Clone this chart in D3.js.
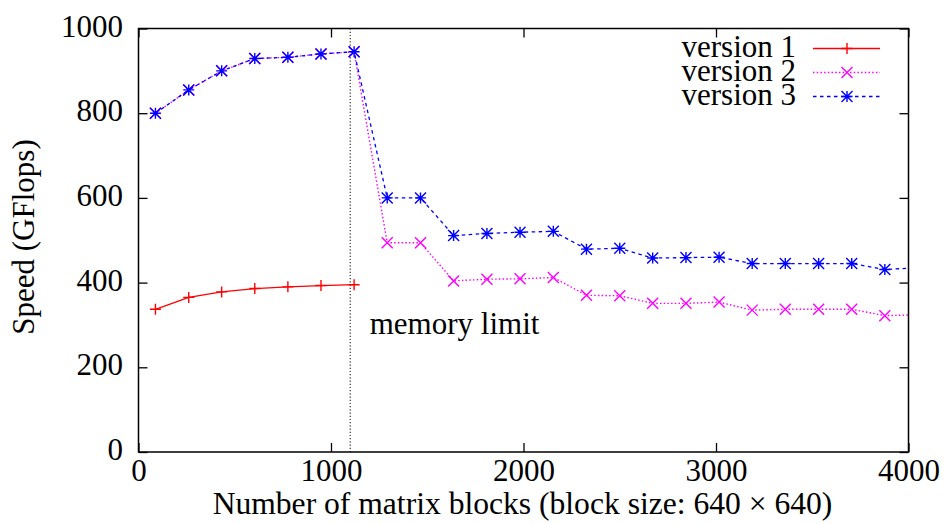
<!DOCTYPE html>
<html>
<head>
<meta charset="utf-8">
<script src="https://cdn.jsdelivr.net/npm/d3@7"></script>
<style>
  html, body { margin: 0; padding: 0; background: #fff; }
  svg { display: block; }
  svg text { font-family: 'Liberation Serif', 'DejaVu Serif', serif; fill: #000; }
</style>
</head>
<body>
<svg id="chart" width="946" height="524"></svg>
<script>
// Number of matrix blocks at each measurement
const blocks = [88, 261, 432, 604, 776, 948, 1120, 1292, 1465, 1637, 1810, 1982,
                2155, 2327, 2500, 2671, 2844, 3016, 3188, 3360, 3533, 3705, 3877, 4050];
// Speed in GFlops for each version
const version1 = [337, 365, 378, 386, 390, 393, 395];
const version2 = [800, 855, 900, 929, 932, 940, 945, 494, 494, 404, 408, 409,
                  412, 370, 369, 351, 351, 354, 335, 337, 337, 337, 322, 324];
const version3 = [800, 855, 900, 929, 932, 940, 945, 600, 600, 511, 516, 519,
                  521, 479, 481, 458, 459, 460, 445, 445, 445, 445, 431, 435];
const seriesNames = ["version 1", "version 2", "version 3"];
const xTicks = [0, 1000, 2000, 3000, 4000];
const yTicks = [0, 200, 400, 600, 800, 1000];
const memoryLimit = 1100;

const svg = d3.select("#chart");
const plotLeft = 138.5, plotRight = 908.5, plotTop = 28.5, plotBottom = 452;
const x = d3.scaleLinear().domain([0, 4000]).range([plotLeft, plotRight]);
const y = d3.scaleLinear().domain([0, 1000]).range([plotBottom, plotTop]);
const fontSize = 31;
const serif = "'Liberation Serif', 'DejaVu Serif', serif";

svg.append("clipPath").attr("id", "plotClip")
  .append("rect").attr("x", plotLeft).attr("y", plotTop)
  .attr("width", plotRight - plotLeft).attr("height", plotBottom - plotTop);

// Inward ticks on all four sides (mirrored like gnuplot)
const tickLen = 9;
const xAxisB = d3.axisBottom(x).tickValues(xTicks).tickSizeInner(-tickLen).tickSizeOuter(0).tickFormat(d3.format("d"));
const xAxisT = d3.axisTop(x).tickValues(xTicks).tickSizeInner(-tickLen).tickSizeOuter(0).tickFormat("");
const yAxisL = d3.axisLeft(y).tickValues(yTicks).tickSizeInner(-tickLen).tickSizeOuter(0).tickPadding(15.5).tickFormat(d3.format("d"));
const yAxisR = d3.axisRight(y).tickValues(yTicks).tickSizeInner(-tickLen).tickSizeOuter(0).tickFormat("");

function styleAxis(g) {
  g.attr("font-family", serif).attr("font-size", fontSize);
  g.select(".domain").remove();
  g.selectAll(".tick line").attr("stroke", "#000").attr("stroke-width", 1.3);
  g.selectAll(".tick text").style("font-family", serif)
    .attr("font-size", fontSize).attr("fill", "#000");
}
svg.append("g").attr("transform", `translate(0,${plotBottom})`).call(xAxisB).call(styleAxis)
  .selectAll(".tick text").attr("dy", 0).attr("y", 28.5);
svg.append("g").attr("transform", `translate(0,${plotTop})`).call(xAxisT).call(styleAxis);
svg.append("g").attr("transform", `translate(${plotLeft},0)`).call(yAxisL).call(styleAxis)
  .selectAll(".tick text").attr("dy", 0).attr("y", 7.5);
svg.append("g").attr("transform", `translate(${plotRight},0)`).call(yAxisR).call(styleAxis);

// Memory limit marker
svg.append("line")
  .attr("x1", x(memoryLimit)).attr("x2", x(memoryLimit))
  .attr("y1", plotTop).attr("y2", plotBottom)
  .attr("stroke", "#333").attr("stroke-width", 1.2).attr("stroke-dasharray", "1.2,2");
svg.append("text").attr("x", x(memoryLimit) + 19.5).attr("y", 333.5)
  .style("font-family", serif).attr("font-size", fontSize).text("memory limit");

// Marker shapes
function markerPath(type, s) {
  const plus = `M${-s},0L${s},0M0,${-s}L0,${s}`;
  const cross = `M${-s},${-s}L${s},${s}M${-s},${s}L${s},${-s}`;
  if (type === "plus") return plus;
  if (type === "cross") return cross;
  return plus + cross;
}

const series = [
  { name: seriesNames[0], values: version1, color: "#ff0000", dash: null, width: 1.3, marker: "plus" },
  { name: seriesNames[1], values: version2, color: "#ff00ff", dash: "1.5,2.2", width: 1.4, marker: "cross" },
  { name: seriesNames[2], values: version3, color: "#0000ff", dash: "3.5,3.5", width: 1.3, marker: "star" }
];

const line = d3.line().x(d => x(d[0])).y(d => y(d[1]));
const plot = svg.append("g").attr("clip-path", "url(#plotClip)");

series.forEach(s => {
  const pts = s.values.map((v, i) => [blocks[i], v]);
  plot.append("path").datum(pts)
    .attr("d", line).attr("fill", "none")
    .attr("stroke", s.color).attr("stroke-width", s.width)
    .attr("stroke-dasharray", s.dash);
  plot.selectAll(null).data(pts).enter().append("path")
    .attr("transform", d => `translate(${x(d[0])},${y(d[1])})`)
    .attr("d", markerPath(s.marker, 5.5))
    .attr("stroke", s.color).attr("stroke-width", 1.4).attr("fill", "none");
});

// Frame
svg.append("rect").attr("x", plotLeft).attr("y", plotTop)
  .attr("width", plotRight - plotLeft).attr("height", plotBottom - plotTop)
  .attr("fill", "none").attr("stroke", "#000").attr("stroke-width", 1.5);

// Legend
const legRows = [48.5, 72.5, 96.5];
series.forEach((s, i) => {
  const g = svg.append("g");
  g.append("text").attr("x", 796).attr("y", legRows[i] + 8.3)
    .attr("text-anchor", "end").style("font-family", serif).attr("font-size", fontSize)
    .text(s.name);
  g.append("line").attr("x1", 813).attr("x2", 880).attr("y1", legRows[i]).attr("y2", legRows[i])
    .attr("stroke", s.color).attr("stroke-width", s.width).attr("stroke-dasharray", s.dash);
  g.append("path").attr("transform", `translate(847,${legRows[i]})`)
    .attr("d", markerPath(s.marker, 5.5))
    .attr("stroke", s.color).attr("stroke-width", 1.4).attr("fill", "none");
});

// Axis titles
svg.append("text").attr("x", 522.5).attr("y", 514)
  .attr("text-anchor", "middle").style("font-family", serif).attr("font-size", 31.6)
  .text("Number of matrix blocks (block size: 640 \u00d7 640)");
svg.append("text").attr("transform", `translate(33.5,237) rotate(-90)`)
  .attr("text-anchor", "middle").style("font-family", serif).attr("font-size", fontSize)
  .text("Speed (GFlops)");
</script>
</body>
</html>
